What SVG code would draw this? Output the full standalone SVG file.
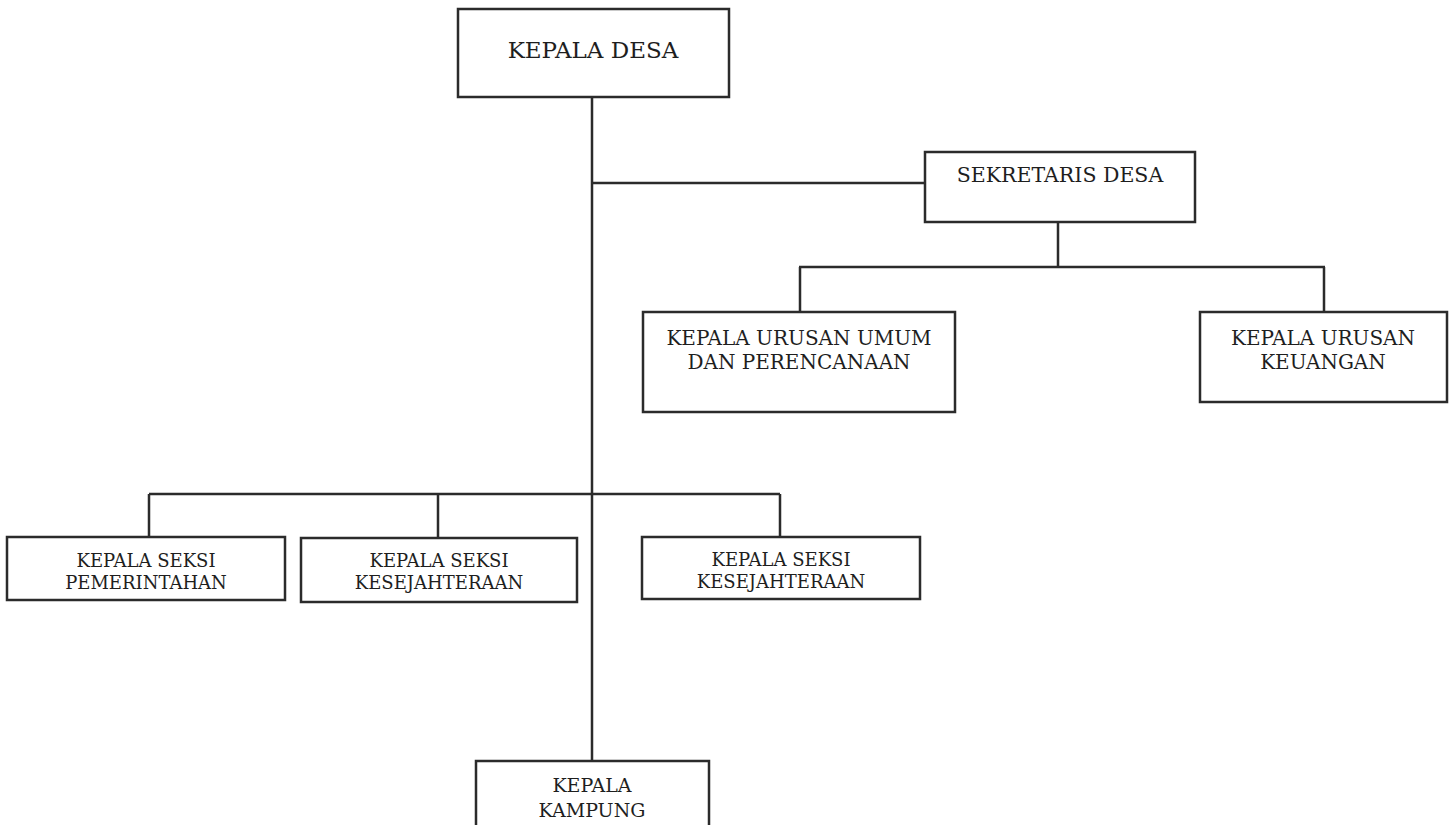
<svg xmlns="http://www.w3.org/2000/svg" width="1453" height="825" viewBox="0 0 1453 825">
<style>
.box{fill:#fff;stroke:#2b2b2b;stroke-width:2.5}
.ln{stroke:#2b2b2b;stroke-width:2.5;fill:none}
text{font-family:"DejaVu Serif","Liberation Serif",serif;fill:#1e1e1e;text-anchor:middle}
.l{font-size:23px}
.sd{font-size:20.5px}
.m{font-size:20px}
.s{font-size:18px}
.k{font-size:19px}
</style>
<rect width="1453" height="825" fill="#fff"/>
<g id="connectors">
<path class="ln" d="M592 97V761"/>
<path class="ln" d="M592 183H925"/>
<path class="ln" d="M1058 222V267M799 267H1325M800 267V312M1324 267V312"/>
<path class="ln" d="M149 494H780M149 494V537M438 494V538M780 494V537"/>
</g>
<g id="kepala-desa"><rect class="box" x="458" y="9" width="271" height="88"/><text class="l" x="593" y="58">KEPALA DESA</text></g>
<g id="sekretaris-desa"><rect class="box" x="925" y="152" width="270" height="70"/><text class="sd" x="1060" y="182">SEKRETARIS DESA</text></g>
<g id="kaur-umum"><rect class="box" x="643" y="312" width="312" height="100"/><text class="m" x="799" y="345">KEPALA URUSAN UMUM</text><text class="m" x="799" y="369">DAN PERENCANAAN</text></g>
<g id="kaur-keuangan"><rect class="box" x="1200" y="312" width="247" height="90"/><text class="m" x="1323" y="345">KEPALA URUSAN</text><text class="m" x="1323" y="369">KEUANGAN</text></g>
<g id="kasi-pemerintahan"><rect class="box" x="7" y="537" width="278" height="63"/><text class="s" x="146" y="567">KEPALA SEKSI</text><text class="s" x="146" y="589">PEMERINTAHAN</text></g>
<g id="kasi-kesejahteraan-1"><rect class="box" x="301" y="538" width="276" height="64"/><text class="s" x="439" y="567">KEPALA SEKSI</text><text class="s" x="439" y="589">KESEJAHTERAAN</text></g>
<g id="kasi-kesejahteraan-2"><rect class="box" x="642" y="537" width="278" height="62"/><text class="s" x="781" y="566">KEPALA SEKSI</text><text class="s" x="781" y="588">KESEJAHTERAAN</text></g>
<g id="kepala-kampung"><rect class="box" x="476" y="761" width="233" height="80"/><text class="k" x="592" y="792">KEPALA</text><text class="k" x="592" y="817">KAMPUNG</text></g>
</svg>
